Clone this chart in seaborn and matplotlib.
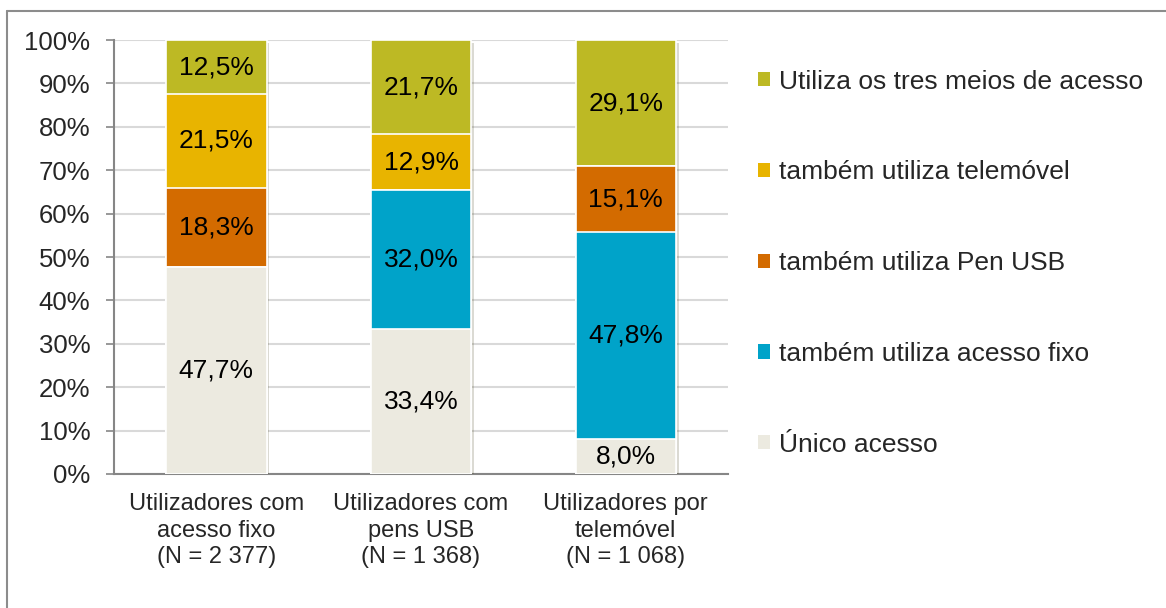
""" Plot access mode shares by user group."""
import numpy as np
import pandas as pd
import seaborn as sns
import matplotlib.pyplot as plt
from matplotlib.lines import Line2D
from matplotlib.patches import Patch
import matplotlib.patheffects as pe

# Data (percentages, bottom to top of each bar)
groups = ["Utilizadores com\nacesso fixo\n(N = 2 377)",
          "Utilizadores com\npens USB\n(N = 1 368)",
          "Utilizadores por\ntelemóvel\n(N = 1 068)"]
series = ["Único acesso",
          "também utiliza acesso fixo",
          "também utiliza Pen USB",
          "também utiliza telemóvel",
          "Utiliza os tres meios de acesso"]
unico = [47.7, 33.4, 8.0]
fixo = [0.0, 32.0, 47.8]
pen = [18.3, 0.0, 15.1]
telemovel = [21.5, 12.9, 0.0]
tres = [12.5, 21.7, 29.1]
colors = ["#ECEAE0", "#00A3C9", "#D36B00", "#E8B400", "#BDB924"]

values = np.array([unico, fixo, pen, telemovel, tres])
cum = values.cumsum(axis=0)

sns.set_style("white")
plt.rcParams['font.family'] = ['Liberation Sans', 'DejaVu Sans']

fig = plt.figure(figsize=(11.66, 6.08), dpi=100)
ax = fig.add_axes([0.0978, 0.2204, 0.5266, 0.7138])

# Stack by drawing cumulative bars from the top layer down
shadow = [pe.SimplePatchShadow(offset=(2, -2), alpha=0.18), pe.Normal()]
for i in range(len(series) - 1, -1, -1):
    df = pd.DataFrame({"group": groups, "value": cum[i]})
    sns.barplot(data=df, x="group", y="value", color=colors[i],
                width=0.49, edgecolor="white", linewidth=1.2,
                saturation=1, ax=ax, zorder=3)

bars = ax.patches
for p in bars[:len(groups)]:
    p.set_path_effects(shadow)

# Segment labels
for i in range(len(series)):
    for j in range(len(groups)):
        v = values[i, j]
        if v <= 0:
            continue
        mid = cum[i, j] - v / 2
        ax.text(j, mid, f"{v:.1f}%".replace(".", ","), ha="center",
                va="center", fontsize=19, color="black", zorder=5)

ax.set_ylim(0, 100)
ax.set_xlim(-0.5, 2.5)
ax.set_yticks(np.arange(0, 101, 10))
ax.set_yticklabels([f"{t}%" for t in range(0, 101, 10)], fontsize=18.5)
ax.set_xticks(range(len(groups)))
ax.set_xticklabels(groups, fontsize=17, linespacing=1.25)
ax.set_xticks([-0.5, 0.5, 1.5, 2.5], minor=True)
ax.tick_params(axis="x", which="major", length=0, pad=14)
ax.tick_params(axis="x", which="minor", length=6, width=1.2,
               color="#868686", direction="out")
ax.tick_params(axis="y", length=6, width=1.2, color="#868686",
               direction="out", pad=11, left=True)
ax.set_xlabel("")
ax.set_ylabel("")
ax.yaxis.grid(True, color="#D9D9D9", linewidth=1.5, zorder=0)
ax.set_axisbelow(True)
for side in ["top", "right"]:
    ax.spines[side].set_visible(False)
for side in ["left", "bottom"]:
    ax.spines[side].set_color("#868686")
    ax.spines[side].set_linewidth(1.5)

# Legend, top layer first
handles = [Patch(facecolor=colors[i], edgecolor="none", label=series[i])
           for i in range(len(series) - 1, -1, -1)]
fig.legend(handles=handles, loc="upper left",
           bbox_to_anchor=(0.641, 0.903), frameon=False, fontsize=19,
           handlelength=0.45, handleheight=0.45, handletextpad=0.35,
           labelspacing=2.53, borderaxespad=0)

# Outer chart frame
fig.add_artist(Line2D([7 / 1166, 7 / 1166], [0, 1 - 11 / 608],
                      color="#8C8C8C", linewidth=1.5))
fig.add_artist(Line2D([7 / 1166, 1], [1 - 11 / 608, 1 - 11 / 608],
                      color="#8C8C8C", linewidth=1.5))

plt.savefig("out.png", dpi=100)
